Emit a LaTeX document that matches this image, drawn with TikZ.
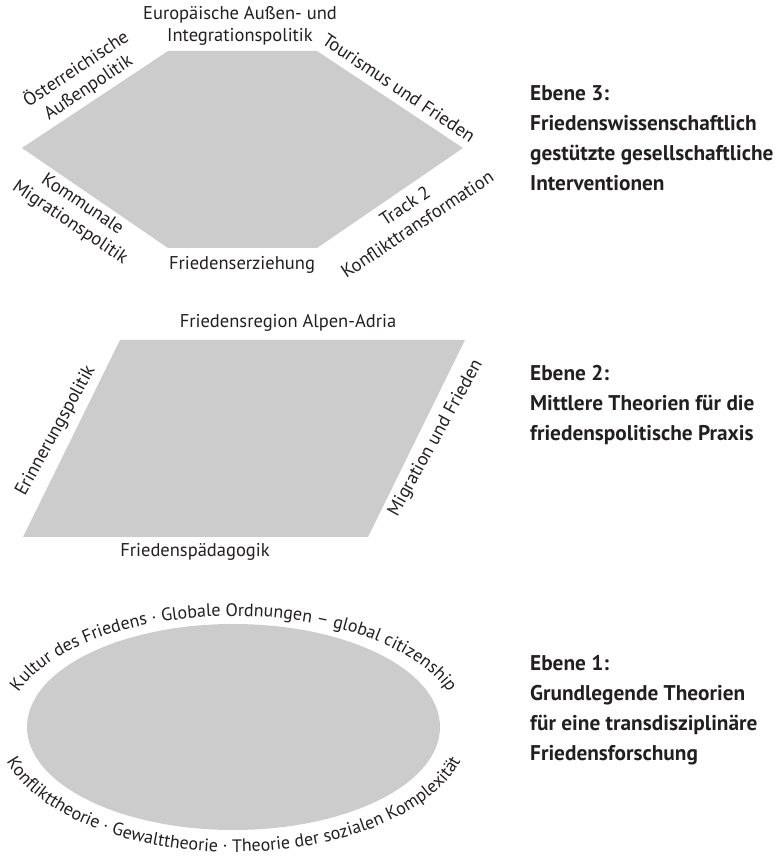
\documentclass[tikz,border=0pt]{standalone}
\usepackage{fontspec}
\setmainfont{PT Sans}
\usetikzlibrary{decorations.text}
\definecolor{fillgray}{RGB}{204,204,204}
\definecolor{txt}{RGB}{35,31,32}
\begin{document}
\begin{tikzpicture}[x=1pt,y=1pt,
  lbl/.style={font=\fontsize{18.5}{22}\selectfont, text=txt, align=center, inner sep=0pt},
  side/.style={font=\bfseries\fontsize{21.3}{30}\selectfont, text=txt, align=left, inner sep=0pt, anchor=north west},
  shapefill/.style={fill=fillgray, draw=none}]
\useasboundingbox (0,0) rectangle (780,857);
% Ebene 3: hexagon
\path[shapefill] (22,709) -- (168,806) -- (317,806) -- (463,709) -- (317,609) -- (168,609) -- cycle;
\node[lbl] (eu) at (240,831.5) {Europäische Außen- und\\Integrationspolitik};
\node[lbl, rotate=33.6] (oe) at (82,779) {Österreichische\\Außenpolitik};
\node[lbl, rotate=-34] (tour) at (399,769) {Tourismus und Frieden};
\node[lbl, rotate=-34] (komm) at (76,643) {Kommunale\\Migrationspolitik};
\node[lbl, rotate=33.6] (track) at (411,642) {Track 2\\Konflikttransformation};
\node[lbl] (erz) at (242,592) {Friedenserziehung};
\node[side] (e3) at (530,772) {Ebene 3:\\Friedenswissenschaftlich\\gestützte gesellschaftliche\\Interventionen};
% Ebene 2: parallelogram
\path[shapefill] (120,517) -- (465,517) -- (368,320) -- (23,320) -- cycle;
\node[lbl] (alpen) at (288,534) {Friedensregion Alpen-Adria};
\node[lbl] (paed) at (195,305) {Friedenspädagogik};
\node[lbl, rotate=61] (erin) at (56,426) {Erinnerungspolitik};
\node[lbl, rotate=61] (migr) at (436,419) {Migration und Frieden};
\node[side] (e2) at (530,492) {Ebene 2:\\Mittlere Theorien für die\\friedenspolitische Praxis};
% Ebene 1: ellipse
\path[shapefill] (233.5,130) ellipse [x radius=206.5, y radius=103];
\path[decorate, decoration={text along path, text align=center,
  text={|\fontsize{18}{22}\selectfont\color{txt}|Kultur des Friedens · Globale Ordnungen – global citizenship}}]
  (7.5,130) arc[start angle=180, end angle=0, x radius=226, y radius=111];
\path[decorate, decoration={text along path, text align=center,
  text={|\fontsize{18}{22}\selectfont\color{txt}|Konflikttheorie · Gewalttheorie · Theorie der sozialen Komplexität}}]
  (-2.5,130) arc[start angle=180, end angle=360, x radius=236, y radius=125];
\node[side] (e1) at (530,202) {Ebene 1:\\Grundlegende Theorien\\für eine transdisziplinäre\\Friedensforschung};
\end{tikzpicture}
\end{document}
